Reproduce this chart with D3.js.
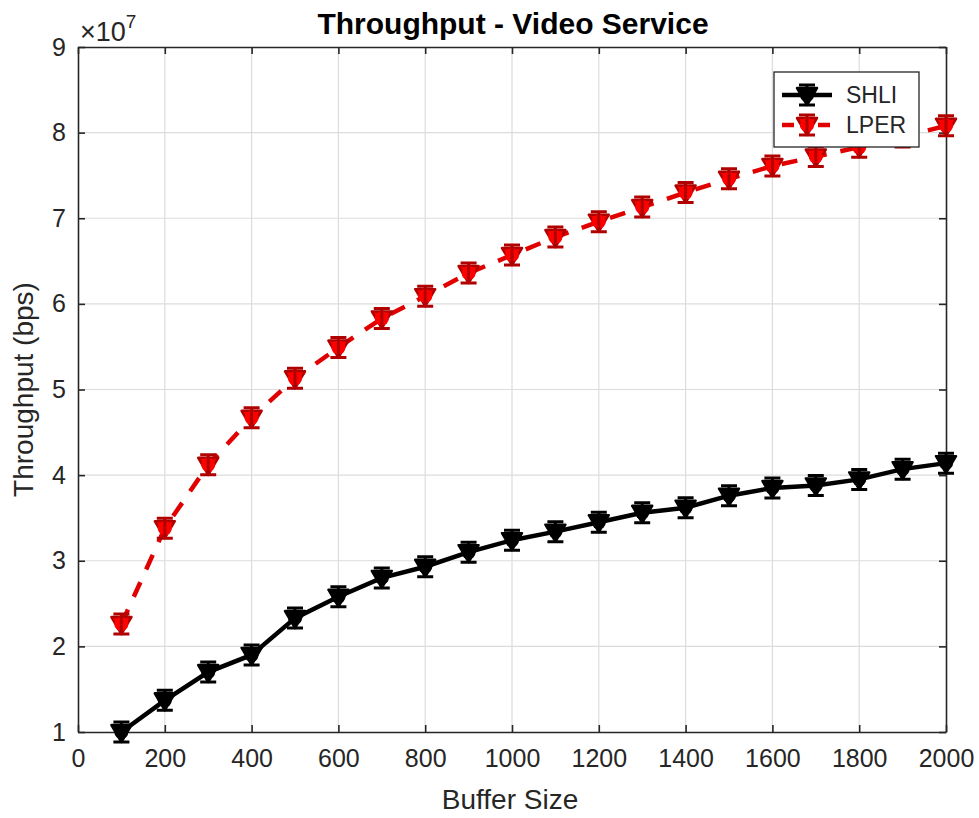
<!DOCTYPE html>
<html>
<head>
<meta charset="utf-8">
<script src="https://cdn.jsdelivr.net/npm/d3@7"></script>
<style>
  body { margin: 0; background: #fff; }
  svg { display: block; font-family: "Liberation Sans", Arial, sans-serif; }
</style>
</head>
<body>
<div id="chart"></div>
<script>
// buffer sizes on the x axis
var bufferSizes = [100, 200, 300, 400, 500, 600, 700, 800, 900, 1000,
                   1100, 1200, 1300, 1400, 1500, 1600, 1700, 1800, 1900, 2000];
// throughput in bps
var shli = [1.00e7, 1.37e7, 1.70e7, 1.90e7, 2.33e7, 2.58e7, 2.80e7, 2.93e7, 3.10e7, 3.24e7,
            3.34e7, 3.45e7, 3.56e7, 3.62e7, 3.76e7, 3.85e7, 3.88e7, 3.95e7, 4.07e7, 4.14e7];
var lper = [2.26e7, 3.38e7, 4.12e7, 4.67e7, 5.13e7, 5.49e7, 5.83e7, 6.09e7, 6.36e7, 6.57e7,
            6.78e7, 6.96e7, 7.13e7, 7.30e7, 7.46e7, 7.61e7, 7.72e7, 7.83e7, 7.95e7, 8.08e7];
var xTicks = [0, 200, 400, 600, 800, 1000, 1200, 1400, 1600, 1800, 2000];
var yTicks = [1e7, 2e7, 3e7, 4e7, 5e7, 6e7, 7e7, 8e7, 9e7];
var seriesNames = ["SHLI", "LPER"];

var W = 979, H = 818;
var axisColor = "#262626";

var svg = d3.select("#chart").append("svg")
    .attr("width", W)
    .attr("height", H);

var x = d3.scaleLinear().domain([0, 2000]).range([78, 946]);
var y = d3.scaleLinear().domain([1e7, 9e7]).range([732, 47]);

// grid
svg.append("g").selectAll("line").data(xTicks.slice(1, -1)).enter().append("line")
    .attr("x1", function(d){ return x(d); }).attr("x2", function(d){ return x(d); })
    .attr("y1", y(9e7)).attr("y2", y(1e7))
    .attr("stroke", "#dcdcdc").attr("stroke-width", 1.2);
svg.append("g").selectAll("line").data(yTicks.slice(1, -1)).enter().append("line")
    .attr("y1", function(d){ return y(d); }).attr("y2", function(d){ return y(d); })
    .attr("x1", x(0)).attr("x2", x(2000))
    .attr("stroke", "#dcdcdc").attr("stroke-width", 1.2);

// axes: bottom/left with labels, top/right only ticks (box on, ticks inward)
var xAxis = d3.axisBottom(x).tickValues(xTicks).tickSizeInner(-7).tickSizeOuter(0).tickPadding(17)
    .tickFormat(d3.format("d"));
var yAxis = d3.axisLeft(y).tickValues(yTicks).tickSizeInner(-7).tickSizeOuter(0).tickPadding(12)
    .tickFormat(function(d){ return d / 1e7; });

var gx = svg.append("g").attr("transform", "translate(0," + y(1e7) + ")").call(xAxis);
var gy = svg.append("g").attr("transform", "translate(" + x(0) + ",0)").call(yAxis);
var gxTop = svg.append("g").attr("transform", "translate(0," + y(9e7) + ")")
    .call(d3.axisTop(x).tickValues(xTicks).tickSizeInner(-7).tickSizeOuter(0).tickFormat(""));
var gyRight = svg.append("g").attr("transform", "translate(" + x(2000) + ",0)")
    .call(d3.axisRight(y).tickValues(yTicks).tickSizeInner(-7).tickSizeOuter(0).tickFormat(""));

[gx, gy, gxTop, gyRight].forEach(function(g){
    g.select(".domain").attr("stroke", axisColor).attr("stroke-width", 1.6);
    g.selectAll(".tick line").attr("stroke", axisColor).attr("stroke-width", 1.6);
    g.selectAll(".tick text").attr("fill", axisColor).style("font-size", "25px");
});

// exponent label
var expo = svg.append("text").attr("x", 80).attr("y", 41)
    .attr("fill", axisColor).style("font-size", "27px");
expo.append("tspan").text("\u00d710");
expo.append("tspan").attr("dy", -13).style("font-size", "19px").text("7");

// title and axis labels
svg.append("text").attr("x", 513).attr("y", 34)
    .attr("text-anchor", "middle")
    .style("font-size", "30px").style("font-weight", "bold")
    .attr("fill", "#000")
    .text("Throughput - Video Service");

svg.append("text").attr("x", 510).attr("y", 809)
    .attr("text-anchor", "middle")
    .style("font-size", "28px").attr("fill", axisColor)
    .text("Buffer Size");

svg.append("text")
    .attr("transform", "translate(33," + ((y(1e7) + y(9e7)) / 2) + ") rotate(-90)")
    .attr("text-anchor", "middle")
    .style("font-size", "28px").attr("fill", axisColor)
    .text("Throughput (bps)");

// marker: downward triangle with small capped whisker
function drawMarker(g, cx, cy, fill, edge){
    g.append("path")
        .attr("d", "M" + (cx - 10) + "," + (cy - 7) + "L" + (cx + 10) + "," + (cy - 7) + "L" + cx + "," + (cy + 10) + "Z")
        .attr("fill", fill).attr("stroke", edge).attr("stroke-width", 2.5).attr("stroke-linejoin", "round");
    g.append("circle").attr("cx", cx).attr("cy", cy).attr("r", 7).attr("fill", fill);
    g.append("path")
        .attr("d", "M" + (cx - 8) + "," + (cy - 10) + "H" + (cx + 8) +
                   "M" + (cx - 8) + "," + (cy + 10) + "H" + (cx + 8) +
                   "M" + cx + "," + (cy - 10) + "V" + (cy + 10))
        .attr("stroke", edge).attr("stroke-width", 3).attr("fill", "none");
}

var line = d3.line()
    .x(function(d){ return x(d[0]); })
    .y(function(d){ return y(d[1]); });

var series = [
    {name: seriesNames[0], values: shli, color: "#000000", fill: "#000000", edge: "#000000", dash: null},
    {name: seriesNames[1], values: lper, color: "#e00000", fill: "#ff0000", edge: "#b00000", dash: "16,14"}
];

series.forEach(function(s){
    var pts = bufferSizes.map(function(b, i){ return [b, s.values[i]]; });
    svg.append("path")
        .datum(pts)
        .attr("d", line)
        .attr("fill", "none")
        .attr("stroke", s.color)
        .attr("stroke-width", 4.5)
        .attr("stroke-dasharray", s.dash);
    var gm = svg.append("g");
    pts.forEach(function(p){ drawMarker(gm, x(p[0]), y(p[1]), s.fill, s.edge); });
});

// legend
var leg = svg.append("g");
leg.append("rect").attr("x", 774).attr("y", 72).attr("width", 145).attr("height", 75)
    .attr("fill", "#fff").attr("stroke", axisColor).attr("stroke-width", 1.3);
series.forEach(function(s, i){
    var ly = 95 + i * 30;
    leg.append("line").attr("x1", 782).attr("x2", 832).attr("y1", ly).attr("y2", ly)
        .attr("stroke", s.color).attr("stroke-width", 4.5)
        .attr("stroke-dasharray", s.dash ? "12,6" : null);
    drawMarker(leg, 807, ly, s.fill, s.edge);
    leg.append("text").attr("x", 846).attr("y", ly + 8)
        .style("font-size", "23px").attr("fill", axisColor)
        .text(s.name);
});
</script>
</body>
</html>
